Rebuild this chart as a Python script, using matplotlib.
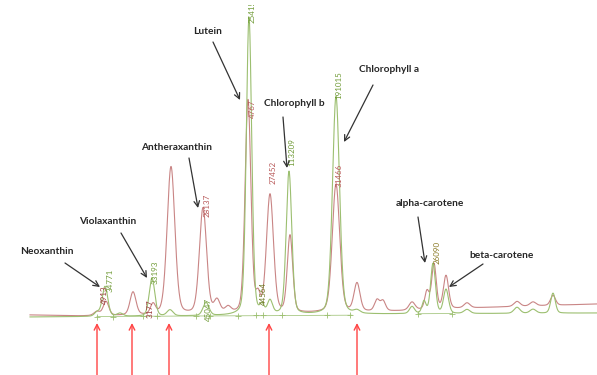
import numpy as np
import matplotlib.pyplot as plt

# retention position (px-like units), peak heights and widths
green_rt = [97, 105, 120, 152, 170, 206, 249, 262, 270, 289, 336, 357, 412, 424, 433, 446, 467, 517, 533, 553]
green_h = [4, 30, 3, 38, 6, 13, 298, 8, 13, 143, 218, 3, 7, 12, 50, 24, 4, 6, 4, 20]
green_w = [2.5, 2.8, 3, 2.8, 3, 3, 2.7, 2, 2.5, 2.8, 3.5, 3, 2.5, 2.0, 2.4, 2.5, 3, 3, 3, 2.3]

red_rt = [97, 106, 133, 153, 171, 203, 217, 228, 248, 258, 270, 290, 336, 357, 377, 383, 412, 427, 434, 446, 467, 517, 533, 553]
red_h = [4, 14, 23, 10, 148, 106, 13, 6, 213, 16, 118, 77, 128, 28, 11, 10, 8, 18, 45, 33, 5, 5, 4, 10]
red_w = [3, 2.8, 3, 2.5, 3.9, 3.6, 3, 3, 2.9, 2.2, 3.5, 2.7, 3.7, 3, 2.5, 2.5, 3, 2.2, 2.3, 2.6, 3, 3, 3, 2.5]

# baseline drift
green_base_x = [30, 200, 300, 400, 597]
green_base_y = [58, 59, 60, 61, 62]
red_base_x = [30, 80, 200, 300, 400, 470, 597]
red_base_y = [60, 59, 60, 61.5, 64, 67, 71]

# integration marks on the green trace
marks_x = [97, 113, 143, 157, 196, 210, 238, 256, 263, 282, 327, 350, 418, 452]

# compound labels: name, text pos, arrow tip
names = ["Neoxanthin", "Violaxanthin", "Antheraxanthin", "Lutein", "Chlorophyll b",
         "Chlorophyll a", "alpha-carotene", "beta-carotene"]
name_xy = [(47, 123), (108, 153), (177, 228), (208, 343), (294, 271), (389, 305), (430, 172), (502, 120)]
arrow_from = [(65, 112), (121, 142), (189, 217), (213, 333), (283, 258), (373, 290), (418, 158), (483, 111)]
arrow_to = [(100, 88), (147, 97), (198, 167), (240, 275), (287, 207), (344, 233), (425, 112), (449, 88)]

# peak area labels
area_txt = ["4913", "34771", "3177", "33193", "28137", "45047", "2541!", "4767", "44564",
            "27452", "113209", "191015", "31466", "26090"]
area_xy = [(104, 80), (110, 95), (150, 66), (155, 103), (207, 170), (208, 66), (252, 362), (252, 266),
           (263, 82), (273, 203), (292, 223), (339, 290), (339, 200), (437, 123)]
area_col = ["#9b3b3b", "#6f9a35", "#9b3b3b", "#6f9a35", "#b85858", "#6f9a35", "#6f9a35", "#b85858",
            "#6f7a25", "#b85858", "#6f9a35", "#6f9a35", "#b85858", "#8a7a25"]

# red marker arrows under the baseline
marker_arrows = [97, 132, 169, 269, 357]

rt = np.linspace(30, 597, 4000)


def trace(cent, hgt, wid, bx, by, eta=0.25):
    y = np.interp(rt, bx, by)
    for c, h, w in zip(cent, hgt, wid):
        g = np.exp(-0.5 * ((rt - c) / w) ** 2)
        gam = 1.1774 * w
        lor = 1.0 / (1.0 + ((rt - c) / gam) ** 2)
        y = y + h * ((1 - eta) * g + eta * lor)
    return y


plt.rcParams['font.family'] = ['Lato', 'DejaVu Sans']
fig = plt.figure(figsize=(5.97, 3.75), dpi=100)
ax = fig.add_axes([0, 0, 1, 1])

red_y = trace(red_rt, red_h, red_w, red_base_x, red_base_y)
green_y = trace(green_rt, green_h, green_w, green_base_x, green_base_y)
ax.plot(rt, red_y, color="#c98585", lw=0.8)
ax.plot(rt, green_y, color="#9cbf70", lw=0.8)

# integration baselines
ax.plot([97, 352], [58.5, 59.8], color="#a8c884", lw=0.6)
ax.plot([418, 452], [61.3, 61.5], color="#a8c884", lw=0.6)
mk_y = np.interp(marks_x, green_base_x, green_base_y)
ax.plot(marks_x, mk_y, ls="none", marker="+", ms=4, mew=0.6, color="#9cbf70")

for t, (x, y), c in zip(area_txt, area_xy, area_col):
    ax.text(x, y, t, rotation=90, fontsize=5.8, color=c, ha="center", va="center")

for n, p, a0, a1 in zip(names, name_xy, arrow_from, arrow_to):
    ax.text(p[0], p[1], n, fontsize=7.3, fontweight="bold", color="#262626", ha="center", va="center")
    ax.annotate("", xy=a1, xytext=a0,
                arrowprops=dict(arrowstyle="->", color="#333333", lw=0.9, shrinkA=0, shrinkB=0))

for x in marker_arrows:
    ax.annotate("", xy=(x, 52), xytext=(x, 0),
                arrowprops=dict(arrowstyle="->", color="#ff4444", lw=1.0, shrinkA=0, shrinkB=0))

ax.set_xlim(0, 597)
ax.set_ylim(0, 375)
ax.axis("off")
plt.savefig("out.png", dpi=100)
